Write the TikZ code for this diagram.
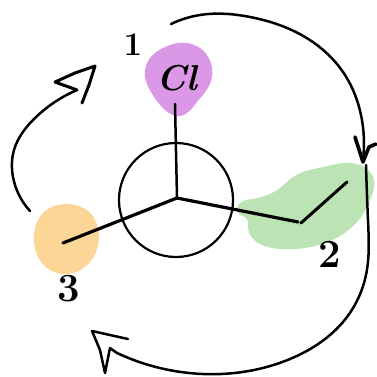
\documentclass[tikz,border=0pt]{standalone}
\usetikzlibrary{hobby}
\begin{document}
\begin{tikzpicture}[x=1pt,y=-1pt,use Hobby shortcut,
  stroke/.style={line width=3pt,line cap=round,line join=round,black},
  thin stroke/.style={line width=2.5pt,line cap=round,line join=round,black},
  hand/.style={inner sep=0pt,font=\bfseries\fontsize{#1}{#1}\selectfont},
  handit/.style={inner sep=0pt,font=\bfseries\itshape\fontsize{#1}{#1}\selectfont}]
\useasboundingbox (0,0) rectangle (377,377);
\definecolor{blobpurple}{HTML}{DA98E6}
\definecolor{blobgreen}{HTML}{BCE3B4}
\definecolor{bloborange}{HTML}{FCD697}
\fill[blobpurple] ([closed]178,43) .. (200,48) .. (212,68) .. (209,86) .. (197,102) .. (180,116) .. (165,110) .. (151,92) .. (145,77) .. (150,58) .. (163,48);
\fill[blobgreen] ([closed]360,165) .. (374,180) .. (372,195) .. (357,222) .. (330,241) .. (305,248) .. (280,249) .. (260,244) .. (248,228) .. (247,219) .. (238,213) .. (240,203) .. (252,199) .. (280,188) .. (293,177) .. (323,167);
\fill[bloborange] ([closed]67,204) .. (88,211) .. (99,237) .. (93,258) .. (73,273) .. (50,270) .. (37,255) .. (34,235) .. (43,213);
\coordinate (c) at (177,198);
\coordinate (u) at (175,104);
\coordinate (m) at (298,222);
\coordinate (e) at (347,182);
\coordinate (m2) at (301,223);
\coordinate (o) at (63,243);
\node[circle,draw,line width=2.2pt,minimum size=114pt,inner sep=0pt] (ring) at (176,200) {};
\draw[thin stroke] (c) -- (u);
\draw[stroke,line width=3.2pt] (c) -- (m);
\draw[stroke] (m2) -- (e);
\draw[stroke,line width=3.2pt] (o) -- (c);
% top/right arrow
\draw[thin stroke] (171,24) .. (200,15) .. (250,17) .. (305,37) .. (345,75) .. (361,115) .. (363,160);
\draw[stroke,line width=3.6pt] (355,137) -- (363,162) -- (369,147) -- (376,144);
\draw[thin stroke] (366,165) .. (368,220) .. (366,275) .. (347,317) .. (290,359) .. (203,374) .. (117,353);
\draw[thin stroke] (117,353) -- (110,348) -- (105,373) -- (100,350) -- (92,331) -- (110,335) -- (128,339);
% left arrow
\draw[thin stroke] (30,211) .. (13,177) .. (14,150) .. (35,118) .. (77,90);
\draw[thin stroke,line width=3pt] (77,90) -- (55,82) -- (75,73) -- (95,66) -- (89,85) -- (82,103);
% labels
\node[hand=33] (n1) at (133,45) {1};
\node[hand=40] (n2) at (330,254) {2};
\node[hand=40] (n3) at (69,289) {3};
\node[handit=36] (cl) at (177,78) {Cl};
\end{tikzpicture}
\end{document}
